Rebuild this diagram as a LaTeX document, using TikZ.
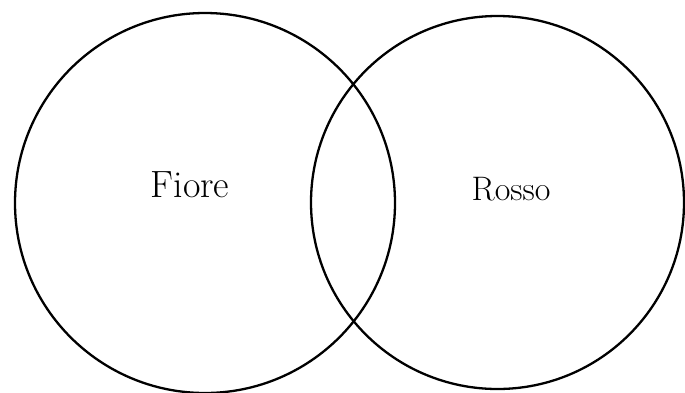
\documentclass[tikz,border=0pt]{standalone}
\begin{document}
\begin{tikzpicture}[x=1pt,y=-1pt,
  setcircle/.style={draw=black, line width=2.3pt, circle, minimum size=#1, inner sep=0pt},
  lbl/.style={anchor=base, inner sep=0pt}]
\useasboundingbox (0,0) rectangle (685,392);
\fill[white] (0,0) rectangle (685,392);
\node[setcircle=380pt] (fiorec) at (205,203) {};
\node[setcircle=373pt] (rossoc) at (497.5,202.5) {};
\node[lbl] (fiore) at (190,197) {\fontsize{38}{38}\selectfont Fiore};
\node[lbl] (rosso) at (511,200) {\fontsize{34}{34}\selectfont Rosso};
\end{tikzpicture}
\end{document}
